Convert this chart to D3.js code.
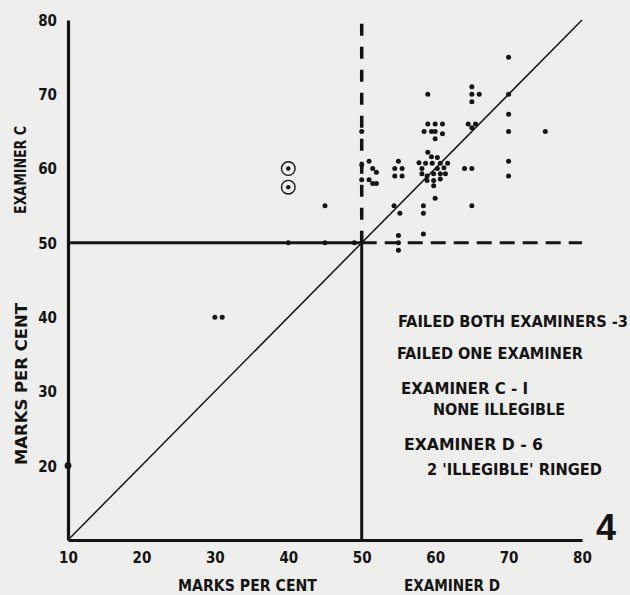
<!DOCTYPE html>
<html>
<head>
<meta charset="utf-8">
<script src="https://cdn.jsdelivr.net/npm/d3@7"></script>
<style>
  html, body { margin: 0; padding: 0; background: #eeeeec; }
  svg { display: block; }
  text { font-family: "DejaVu Sans Condensed", "DejaVu Sans", sans-serif; font-weight: bold; font-stretch: condensed; fill: #141414; }
</style>
</head>
<body>
<svg id="chart" width="630" height="595"></svg>
<script>
// marks per cent given by examiner D (x) and examiner C (y)
var examinerD = [10, 30, 31, 40, 45, 49, 45,
    50, 50, 51, 51.5, 52, 50, 51, 51.5, 52,
    55, 54.5, 55.5, 54.5, 55.5, 54.4, 55.2, 55, 55, 55,
    58.4, 58.4, 58.4,
    59, 59.5, 60.3, 57.8, 58.7, 59.6, 60.7, 61.7, 58.2, 60.3, 61.2, 58.2, 58.9, 59.8, 60.7, 61.4, 58.9, 59.8, 60.7, 59.8, 60,
    59, 60, 61, 58.5, 59.5, 60, 61, 60, 59,
    64, 65, 65, 64.5, 65, 65.5, 65, 65, 66, 65,
    70, 70, 70, 70, 70, 70, 75];
var examinerC = [20, 40, 40, 50, 50, 50, 55,
    65, 60.5, 61, 60, 59.5, 58.5, 58.5, 58, 58,
    61, 60, 60, 59, 59, 55, 54, 51, 50, 49,
    55, 54, 51.2,
    62.2, 61.6, 61.5, 60.8, 60.7, 60.7, 60.7, 60.7, 60, 60, 60.1, 59.3, 59, 59.3, 59.3, 59.3, 58.4, 58.4, 58.6, 57.7, 56,
    66, 66, 66, 65, 65, 65, 64.7, 64, 70,
    60, 60, 55, 66, 65.5, 66, 71, 70, 70, 69,
    75, 70, 67.3, 65, 61, 59, 65];

// the two "illegible" scripts, ringed
var ringedD = [40, 40];
var ringedC = [60, 57.5];

var xTicks = [10, 20, 30, 40, 50, 60, 70, 80];
var yTicks = [20, 30, 40, 50, 60, 70, 80];
var passMark = 50;

var notes = ["FAILED BOTH EXAMINERS -3", "FAILED ONE  EXAMINER", "EXAMINER C - I",
    "NONE ILLEGIBLE", "EXAMINER D - 6", "2 'ILLEGIBLE' RINGED"];

var ink = "#141414";
var svg = d3.select("#chart");

var x = d3.scaleLinear().domain([10, 80]).range([68, 582]);
var y = d3.scaleLinear().domain([10, 80]).range([540, 20]);

// axes
var xAxis = svg.append("g")
    .attr("transform", "translate(0," + y(10) + ")")
    .call(d3.axisBottom(x).tickValues(xTicks).tickSize(0).tickSizeOuter(0).tickPadding(12));
var yAxis = svg.append("g")
    .attr("transform", "translate(" + x(10) + ",0)")
    .call(d3.axisLeft(y).tickValues(yTicks).tickSize(0).tickSizeOuter(0).tickPadding(11));

[xAxis, yAxis].forEach(function (a) {
    a.select(".domain").attr("stroke", ink).attr("stroke-width", 3.2);
    a.selectAll("text").style("font-size", "15px").attr("fill", ink)
        .style("font-family", "'DejaVu Sans Condensed', 'DejaVu Sans', sans-serif")
        .style("font-weight", "bold");
});
yAxis.selectAll("text").attr("dy", "0.36em");

// diagonal of agreement
svg.append("line")
    .attr("x1", x(10)).attr("y1", y(10))
    .attr("x2", x(80)).attr("y2", y(80))
    .attr("stroke", ink).attr("stroke-width", 1.5);

// pass mark, solid part
svg.append("line")
    .attr("x1", x(10)).attr("y1", y(passMark))
    .attr("x2", x(passMark)).attr("y2", y(passMark))
    .attr("stroke", ink).attr("stroke-width", 3);
svg.append("line")
    .attr("x1", x(passMark)).attr("y1", y(10))
    .attr("x2", x(passMark)).attr("y2", y(passMark))
    .attr("stroke", ink).attr("stroke-width", 3);

// pass mark, dashed part
svg.append("line")
    .attr("x1", x(passMark)).attr("y1", y(passMark))
    .attr("x2", x(80)).attr("y2", y(passMark))
    .attr("stroke", ink).attr("stroke-width", 3)
    .attr("stroke-dasharray", "15,8");
svg.append("line")
    .attr("x1", x(passMark)).attr("y1", y(passMark))
    .attr("x2", x(passMark)).attr("y2", y(80.4))
    .attr("stroke", ink).attr("stroke-width", 3.5)
    .attr("stroke-dasharray", "12,11");

// scripts
svg.append("g").selectAll("circle")
    .data(d3.range(examinerD.length))
    .enter().append("circle")
    .attr("cx", function (i) { return x(examinerD[i]); })
    .attr("cy", function (i) { return y(examinerC[i]); })
    .attr("r", function (i) { return examinerD[i] == 10 ? 3.4 : 2.5; })
    .attr("fill", ink);

var rings = svg.append("g").selectAll("g")
    .data(d3.range(ringedD.length))
    .enter().append("g")
    .attr("transform", function (i) { return "translate(" + x(ringedD[i]) + "," + y(ringedC[i]) + ")"; });
rings.append("circle").attr("r", 6.8).attr("fill", "none").attr("stroke", ink).attr("stroke-width", 1.4);
rings.append("circle").attr("r", 2.2).attr("fill", ink);

// axis titles
svg.append("text")
    .attr("transform", "translate(26,170) rotate(-90)")
    .attr("text-anchor", "middle")
    .attr("textLength", 88).attr("lengthAdjust", "spacingAndGlyphs")
    .style("font-size", "16px")
    .text("EXAMINER  C");
svg.append("text")
    .attr("transform", "translate(27,384) rotate(-90)")
    .attr("text-anchor", "middle")
    .attr("textLength", 162).attr("lengthAdjust", "spacingAndGlyphs")
    .style("font-size", "15px")
    .text("MARKS PER CENT");
svg.append("text")
    .attr("x", 178).attr("y", 591)
    .attr("textLength", 139).attr("lengthAdjust", "spacingAndGlyphs")
    .style("font-size", "15px")
    .text("MARKS PER CENT");
svg.append("text")
    .attr("x", 404).attr("y", 591)
    .attr("textLength", 96).attr("lengthAdjust", "spacingAndGlyphs")
    .style("font-size", "15px")
    .text("EXAMINER  D");

// figure number
svg.append("text")
    .attr("x", 596).attr("y", 540)
    .style("font-family", "'Liberation Sans', Arial, sans-serif")
    .style("font-stretch", "normal")
    .style("font-size", "36px")
    .text("4");

// notes on the right
var noteX = [398, 397, 401, 433, 404, 427];
var noteY = [327, 359, 394, 415, 450, 475];
var noteW = [230, 186, 127, 132, 139, 175];
svg.append("g").selectAll("text")
    .data(notes)
    .enter().append("text")
    .attr("x", function (d, i) { return noteX[i]; })
    .attr("y", function (d, i) { return noteY[i]; })
    .attr("textLength", function (d, i) { return noteW[i]; })
    .attr("lengthAdjust", "spacingAndGlyphs")
    .style("font-size", "16px")
    .text(function (d) { return d; });
</script>
</body>
</html>
